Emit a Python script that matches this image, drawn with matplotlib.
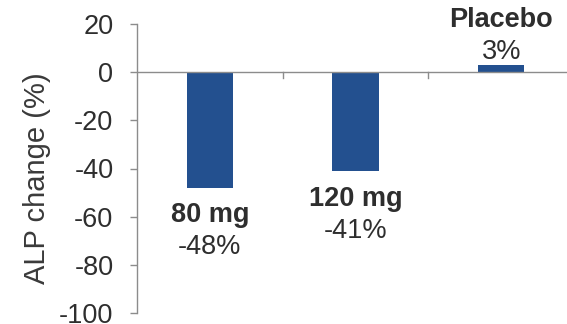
import matplotlib
matplotlib.use("Agg")
import matplotlib.pyplot as plt

plt.rcParams['font.family'] = ['Liberation Sans', 'DejaVu Sans']

doses = ["80 mg", "120 mg", "Placebo"]
alp_change = [-48, -41, 3]
yticks = [20, 0, -20, -40, -60, -80, -100]

W, H = 567, 324
fig = plt.figure(figsize=(W / 100, H / 100), dpi=100)
# axes runs a little past the right edge, so the last category is cut off
left, right, top, bottom = 137, 574, 24, 313
ax = fig.add_axes([left / W, 1 - bottom / H, (right - left) / W, (bottom - top) / H])

bar_color = "#23508f"
text_color = "#2e2e2e"
axis_color = "#8c8c8c"
fs = 19.5

x = list(range(len(doses)))
ax.bar(x, alp_change, width=0.32, color=bar_color, zorder=2)

ax.set_xlim(-0.5, len(doses) - 0.5)
ax.set_ylim(-100, 20)
ax.set_yticks(yticks)
ax.set_yticklabels([str(v) for v in yticks])
ax.tick_params(axis='y', direction='out', length=5, width=1, color=axis_color,
               labelsize=fs, labelcolor=text_color, pad=12)

for s in ["top", "right", "bottom"]:
    ax.spines[s].set_visible(False)
ax.spines["left"].set_color(axis_color)
ax.spines["left"].set_linewidth(1)

# category axis drawn at zero with ticks between categories
ax.axhline(0, color=axis_color, lw=1, zorder=3)
ax.set_xticks([])
for b in [0.5, 1.5]:
    ax.plot([b, b], [0, -2.5], color=axis_color, lw=1, zorder=3, clip_on=False)

ax.set_ylabel("ALP change (%)", fontsize=21, color="#3a3a3a")
ax.yaxis.set_label_coords(-0.196, 0.467)

for xi, name, v in zip(x, doses, alp_change):
    if v < 0:
        name_y, val_y = v - 11.5, v - 24.8
    else:
        name_y, val_y = v + 18.6, v + 5.3
    ax.text(xi, name_y, name, ha="center", va="center", fontsize=fs,
            fontweight="bold", color=text_color)
    ax.text(xi, val_y, f"{v}%", ha="center", va="center", fontsize=fs,
            color=text_color)

fig.savefig("out.png", dpi=100)
